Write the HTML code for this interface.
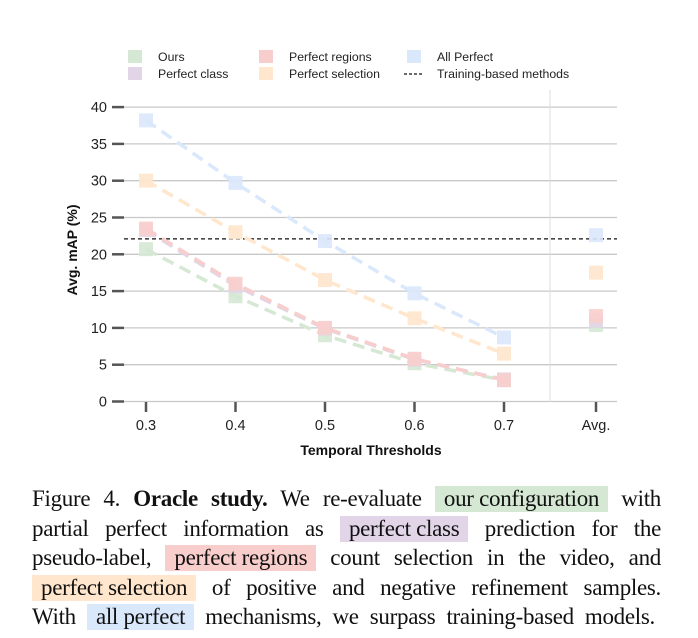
<!DOCTYPE html>
<html><head><meta charset="utf-8"><style>
body{margin:0;background:#fff;width:698px;height:638px;overflow:hidden;position:relative}
svg{position:absolute;left:0;top:0}
.cap{position:absolute;left:32px;width:629px;font-family:"Liberation Serif",serif;font-size:23px;line-height:29.5px;color:#111;text-align:justify;text-align-last:justify;white-space:nowrap;letter-spacing:-0.3px}
.hl{display:inline-block;padding:0 9px;line-height:26px}
</style></head><body>
<svg id="chart" width="698" height="470" font-family="Liberation Sans, sans-serif"></svg>
<div class="cap" style="top:484px">Figure 4. <b>Oracle study.</b> We re-evaluate <span class="hl" style="background:#d5e8d4">our configuration</span> with</div>
<div class="cap" style="top:513.5px">partial perfect information as <span class="hl" style="background:#e1d5e7">perfect class</span> prediction for the</div>
<div class="cap" style="top:543px">pseudo-label, <span class="hl" style="background:#f8cecc">perfect regions</span> count selection in the video, and</div>
<div class="cap" style="top:572.5px"><span class="hl" style="background:#ffe6cc">perfect selection</span> of positive and negative refinement samples.</div>
<div class="cap" style="top:602px;width:623px">With <span class="hl" style="background:#dae8fc">all perfect</span> mechanisms, we surpass training-based models.</div>
<script>
const categories=["0.3","0.4","0.5","0.6","0.7"];
const yTicks=[0,5,10,15,20,25,30,35,40];
const seriesNames=["Ours","Perfect class","Perfect regions","Perfect selection","All Perfect"];
const seriesColors=["#d5e8d4","#e1d5e7","#f8cecc","#ffe6cc","#dae8fc"];
const oursVals=[20.7,14.3,9.0,5.2,2.9];
const classVals=[23.3,15.7,9.9,5.7,3.0];
const regionsVals=[23.5,16.0,10.0,5.8,2.9];
const selectionVals=[30.0,23.0,16.5,11.3,6.5];
const allVals=[38.2,29.7,21.8,14.7,8.7];
const avgVals=[10.4,11.0,11.6,17.5,22.6];
const trainingBaseline=22.1;
const NS="http://www.w3.org/2000/svg";
const svg=document.getElementById('chart');
const X0=146,DX=89.5,AVGX=596;
const xs=i=>X0+i*DX;
const ys=v=>401.5-v*7.36;
function mk(t,a,p){const e=document.createElementNS(NS,t);for(const k in a)e.setAttribute(k,a[k]);(p||svg).appendChild(e);return e;}
yTicks.forEach(v=>{
 const g=mk('line',{x1:124,x2:617,y1:ys(v),y2:ys(v),stroke:'#c8c8c8','stroke-width':1.3});
 
 
 mk('line',{x1:112,x2:124,y1:ys(v),y2:ys(v),stroke:'#555','stroke-width':2.5});
 const t=mk('text',{x:107,y:ys(v)+5,'text-anchor':'end','font-size':14.5,fill:'#222'});t.textContent=v;
 
 
});
mk('line',{x1:550,x2:550,y1:90,y2:402,stroke:'#ddd','stroke-width':1});
const xl=[...categories,"Avg."];
xl.forEach((c,i)=>{
 const x=i<5?xs(i):AVGX;
 mk('line',{x1:x,x2:x,y1:402,y2:412,stroke:'#555','stroke-width':2.5});
 const t=mk('text',{x:x,y:430,'text-anchor':'middle','font-size':14.5,fill:'#222'});t.textContent=c;
 
 
});
const yt=mk('text',{x:0,y:0,transform:'translate(77,250) rotate(-90)','text-anchor':'middle','font-size':14,'font-weight':'bold',fill:'#111'});yt.textContent='Avg. mAP (%)';


const xt=mk('text',{x:371,y:455,'text-anchor':'middle','font-size':14,'font-weight':'bold',fill:'#111'});xt.textContent='Temporal Thresholds';


const bl=mk('line',{x1:124,x2:617,y1:ys(trainingBaseline),y2:ys(trainingBaseline),stroke:'#111','stroke-width':1.2,'stroke-dasharray':'4 3'});


const allSeries=[oursVals,classVals,regionsVals,selectionVals,allVals];
allSeries.forEach((vals,s)=>{
 const col=seriesColors[s];
 const pl=mk('polyline',{points:vals.map((v,i)=>xs(i)+','+ys(v)).join(' '),fill:'none',stroke:col,'stroke-width':3.5,'stroke-dasharray':'12 7'});
 
 
 vals.forEach((v,i)=>{
  const r=mk('rect',{x:xs(i)-7,y:ys(v)-7,width:14,height:14,fill:col,opacity:0.9});
  
  
 });
 const r=mk('rect',{x:AVGX-7,y:ys(avgVals[s])-7,width:14,height:14,fill:col,opacity:0.9});
 
 
});
const legPos=[[128,50],[128,67],[259,50],[259,67],[407,50]];
seriesNames.forEach((n,s)=>{
 const [x,y]=legPos[s];
 mk('rect',{x:x,y:y,width:14,height:13,fill:seriesColors[s]});
 const t=mk('text',{x:x+30,y:y+11,'font-size':12.3,fill:'#222'});t.textContent=n;
 
 
});
mk('line',{x1:404,x2:424,y1:74,y2:74,stroke:'#111','stroke-width':1.2,'stroke-dasharray':'3 2'});
const lt=mk('text',{x:437,y:78,'font-size':12.3,fill:'#222'});lt.textContent='Training-based methods';


</script>
</body></html>
